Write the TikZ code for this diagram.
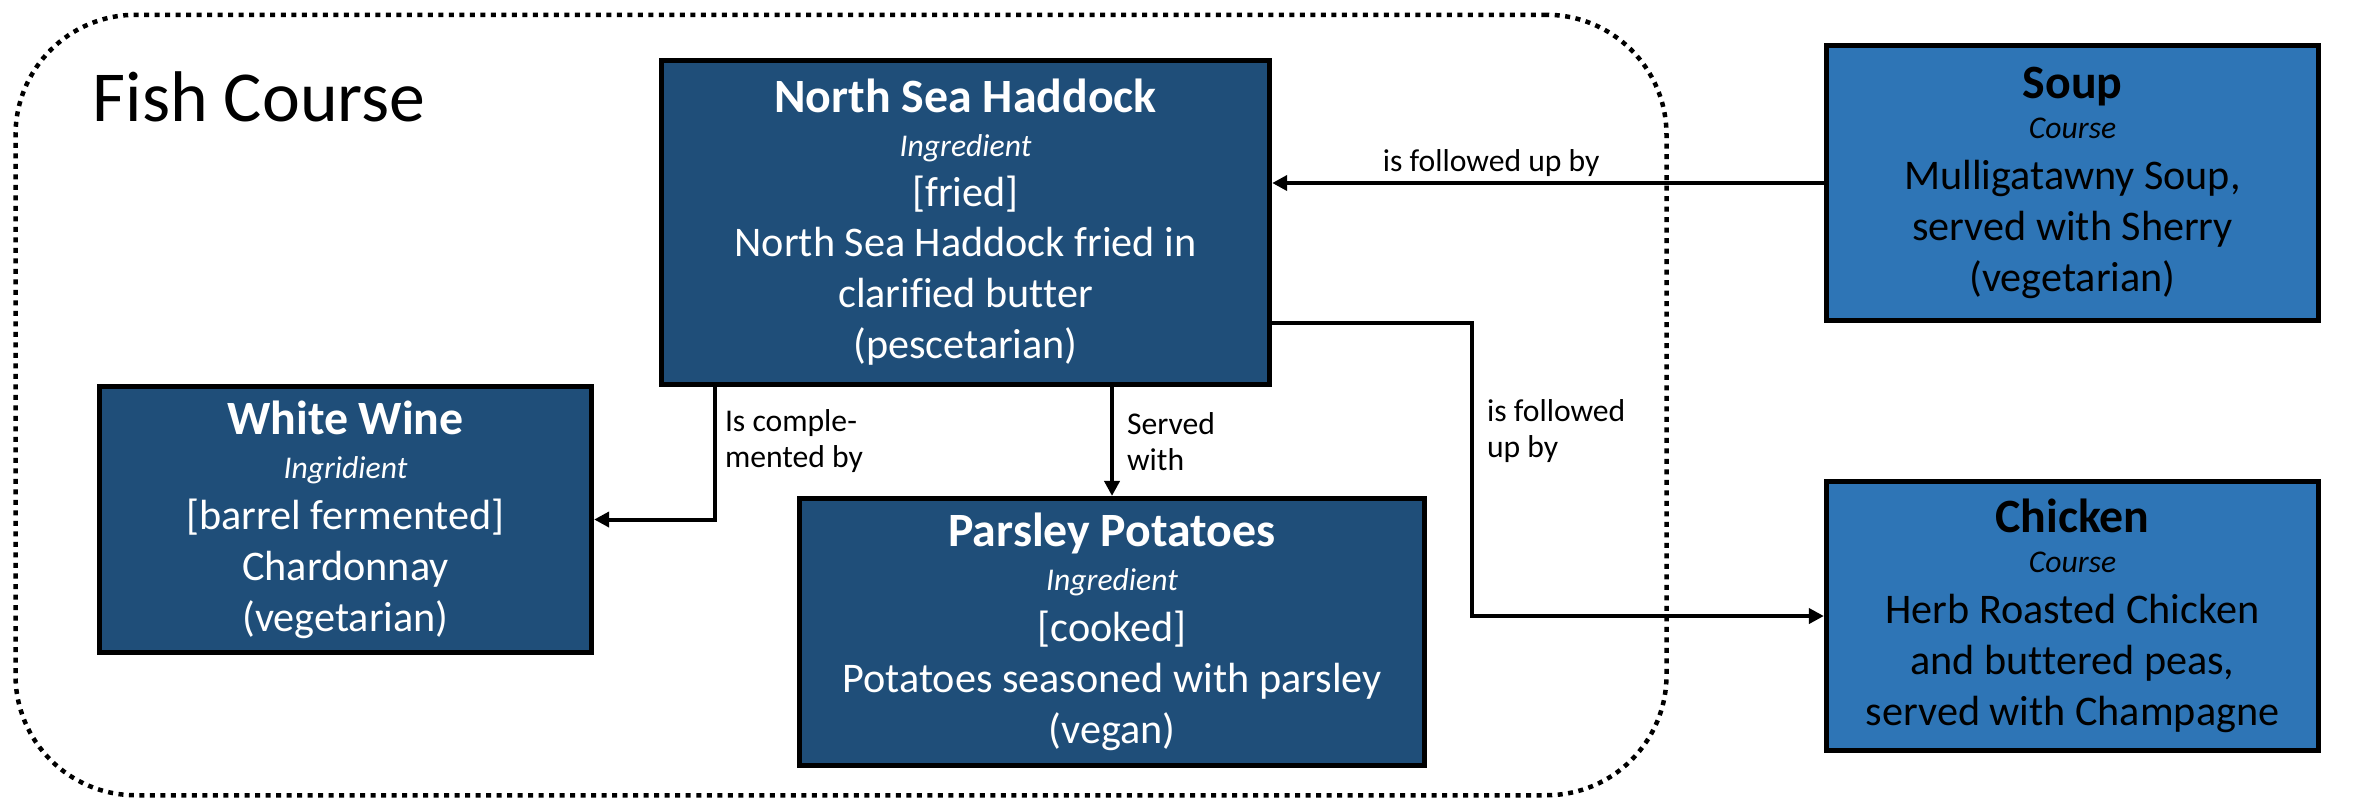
\documentclass[tikz,border=0pt]{standalone}
\usepackage{fontspec}
\setmainfont[Ligatures={NoCommon}]{Carlito}
\usetikzlibrary{arrows.meta}

\definecolor{deepblue}{RGB}{31,78,121}
\definecolor{midblue}{RGB}{46,117,182}

\tikzset{
  box/.style={draw=black, line width=0.05cm, align=center, inner sep=0pt,
    font=\fontsize{12}{14.5}\selectfont},
  ingredient/.style={box, fill=deepblue, text=white},
  course/.style={box, fill=midblue, text=black},
  link/.style={line width=0.04cm, -{Triangle[length=0.15cm,width=0.15cm]}},
  lbl/.style={font=\fontsize{9}{10.3}\selectfont, inner sep=0pt, align=left},
  group/.style={draw=black, line width=0.045cm, dash pattern=on 0.05cm off 0.055cm,
    rounded corners=1.2cm}
}
\newcommand{\boxtitle}[1]{{\fontsize{13.6}{14.5}\selectfont\bfseries #1}}
\newcommand{\boxkind}[1]{{\fontsize{9}{14.5}\selectfont\itshape #1}}

\begin{document}
\begin{tikzpicture}[x=0.01cm, y=-0.01cm]
  \useasboundingbox (0,0) rectangle (2380,799);

  % dotted frame grouping the fish course
  \node[group, minimum width=16.5cm, minimum height=7.8cm] (fishgroup) at (841,405) {};
  \node[font=\fontsize{20.4}{24}\selectfont, anchor=base west, inner sep=0pt] (fishtitle) at (92,121) {Fish Course};

  % dishes
  \node[ingredient, minimum width=6.08cm, minimum height=3.24cm] (hadd) at (965.5,222.5)
    {\boxtitle{North Sea Haddock}\\[-2pt]\boxkind{Ingredient}\\[-0.5pt] {[fried]}\\ North Sea Haddock fried in\\ clarified butter\\ (pescetarian)};
  \node[ingredient, minimum width=4.92cm, minimum height=2.66cm] (wine) at (345.5,519.5)
    {\boxtitle{White Wine}\\[-2pt]\boxkind{Ingridient}\\ {[barrel fermented]}\\ Chardonnay\\ (vegetarian)};
  \node[ingredient, minimum width=6.25cm, minimum height=2.67cm] (parsley) at (1112,632)
    {\boxtitle{Parsley Potatoes}\\[-2pt]\boxkind{Ingredient}\\ {[cooked]}\\ Potatoes seasoned with parsley\\ (vegan)};
  \node[course, minimum width=4.92cm, minimum height=2.75cm] (soup) at (2072.5,183)
    {\boxtitle{Soup}\\[-3pt]\boxkind{Course}\\ Mulligatawny Soup,\\ served with Sherry\\ (vegetarian)};
  \node[course, minimum width=4.92cm, minimum height=2.69cm] (chicken) at (2072.5,616)
    {\boxtitle{Chicken}\\[-3pt]\boxkind{Course}\\ Herb Roasted Chicken\\ and buttered peas,\\ served with Champagne};

  % bend points of the elbow connectors
  \coordinate (complx) at (715,0);
  \coordinate (jog) at (1472,323);

  % connectors
  \draw[link] (soup.west) -- node[lbl, pos=0.603, anchor=base, yshift=0.12cm] {is followed up by} (hadd.east |- soup.west);
  \draw[link] (hadd.east |- jog) -- (jog)
    -- node[lbl, pos=0.369, anchor=west, xshift=0.13cm] {is followed\\up by} (jog |- chicken.west)
    -- (chicken.west);
  \draw[link] (hadd.south -| complx)
    -- node[lbl, pos=0.41, anchor=west, xshift=0.08cm] {Is comple-\\mented by} (complx |- wine.east)
    -- (wine.east);
  \draw[link] (hadd.south -| parsley.north)
    -- node[lbl, pos=0.5, anchor=west, xshift=0.13cm] {Served\\with} (parsley.north);
\end{tikzpicture}
\end{document}
